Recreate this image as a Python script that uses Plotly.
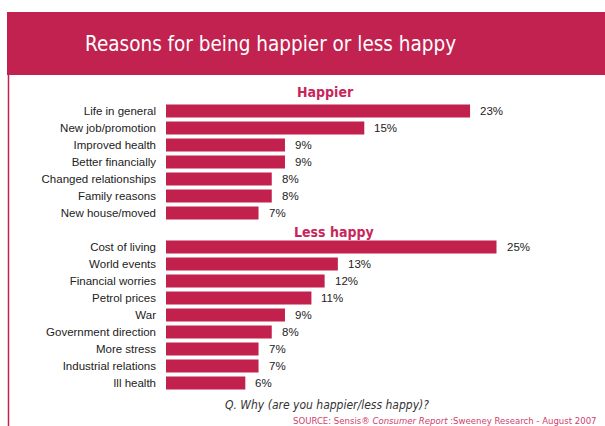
import plotly.graph_objects as go

# Survey results (percent of respondents)
happier_reasons = ["Life in general", "New job/promotion", "Improved health",
                   "Better financially", "Changed relationships", "Family reasons",
                   "New house/moved"]
happier_values = [23, 15, 9, 9, 8, 8, 7]

less_happy_reasons = ["Cost of living", "World events", "Financial worries",
                      "Petrol prices", "War", "Government direction", "More stress",
                      "Industrial relations", "Ill health"]
less_happy_values = [25, 13, 12, 11, 9, 8, 7, 7, 6]

W, H = 605, 426
BAR = "#C3214D"
BAND = "#C1224F"
HEAD = "#C8265A"
COND = "DejaVu Sans Condensed, Liberation Sans Narrow, Arial Narrow, sans-serif"

# Row positions: happier rows first, one blank row, then less-happy rows
labels = happier_reasons + less_happy_reasons
values = happier_values + less_happy_values
rows = list(range(len(happier_reasons))) + [len(happier_reasons) + 1 + i for i in range(len(less_happy_reasons))]

L, R, T, B = 166, 43, 94, 26
pw, ph = W - L - R, H - T - B


def px(x):
    return (x - L) / pw


def py(y):
    return (H - B - y) / ph


fig = go.Figure()
fig.add_trace(go.Bar(
    x=values, y=rows, orientation="h",
    marker=dict(color=BAR, line=dict(width=0)),
    width=0.76, hoverinfo="skip",
))

annotations = []
# Value labels to the right of each bar
for v, r in zip(values, rows):
    annotations.append(dict(x=v, y=r, xref="x", yref="y", text=f"{v}%", xanchor="left", xshift=8,
                            showarrow=False, yanchor="middle",
                            font=dict(family="Liberation Sans, Arial", size=11.5, color="#222222")))

shapes = [
    # title band
    dict(type="rect", xref="paper", yref="paper", x0=px(7), x1=px(610), y0=py(75), y1=py(12),
         fillcolor=BAND, line=dict(width=0), layer="below"),
    # left frame rule
    dict(type="line", xref="paper", yref="paper", x0=px(8.5), x1=px(8.5), y0=py(75), y1=py(430),
         line=dict(color=BAND, width=1.5)),
]

annotations += [
    dict(xref="paper", yref="paper", x=px(270), y=py(44), text="Reasons for being happier or less happy",
         showarrow=False, xanchor="center", yanchor="middle",
         font=dict(family=COND, size=20.5, color="white")),
    dict(xref="paper", yref="paper", x=px(325), y=py(92), text="<b>Happier</b>",
         showarrow=False, xanchor="center", yanchor="middle",
         font=dict(family=COND, size=14, color=HEAD)),
    dict(xref="paper", yref="paper", x=px(334), y=py(232), text="<b>Less happy</b>",
         showarrow=False, xanchor="center", yanchor="middle",
         font=dict(family=COND, size=14, color=HEAD)),
    dict(xref="paper", yref="paper", x=px(327), y=py(405), text="<i>Q. Why (are you happier/less happy)?</i>",
         showarrow=False, xanchor="center", yanchor="middle",
         font=dict(family=COND, size=12, color="#333333")),
    dict(xref="paper", yref="paper", x=px(291), y=py(420),
         text="SOURCE: Sensis® <i>Consumer Report</i> :Sweeney Research - August 2007",
         showarrow=False, xanchor="left", yanchor="middle",
         font=dict(family=COND, size=9.5, color="#D0406A")),
]

fig.update_layout(
    width=W, height=H,
    margin=dict(l=L, r=R, t=T, b=B, pad=0),
    plot_bgcolor="white", paper_bgcolor="white",
    showlegend=False,
    bargap=0.2,
    xaxis=dict(range=[0, pw / 13.22], visible=False, showgrid=False, zeroline=False),
    yaxis=dict(range=[17, -1], tickvals=rows, ticktext=labels,
               showgrid=False, zeroline=False, showline=False, ticks="",
               ticklabelstandoff=9,
               tickfont=dict(family="Liberation Sans, Arial", size=11.5, color="#222222")),
    shapes=shapes,
    annotations=annotations,
)

fig.write_html("out.html")
